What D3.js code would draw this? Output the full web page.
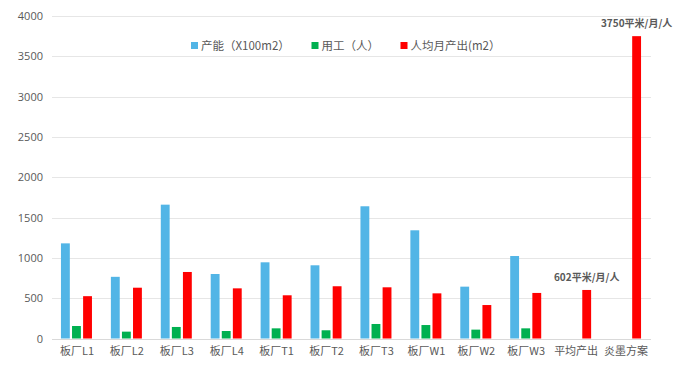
<!DOCTYPE html>
<html><head><meta charset="utf-8">
<script src="https://cdn.jsdelivr.net/npm/d3@7"></script>
<style>body{margin:0;background:#fff;} text{font-family:"Noto Sans CJK SC","Microsoft YaHei",sans-serif;}</style>
</head><body><svg id="c" width="680" height="368"></svg>
<script>
const categories = ["板厂L1","板厂L2","板厂L3","板厂L4","板厂T1","板厂T2","板厂T3","板厂W1","板厂W2","板厂W3","平均产出","炎墨方案"];
const seriesNames = ["产能（X100m2）","用工（人）","人均月产出(m2）"];
const capacity = [1180,765,1660,800,945,908,1640,1342,643,1023,null,null];
const workers = [155,85,143,93,126,102,180,167,110,126,null,null];
const perCapita = [525,630,825,622,536,648,635,560,415,565,602,3750];
const yTicks = [0,500,1000,1500,2000,2500,3000,3500,4000];
const annotations = [{cat:"平均产出", value:602, text:"602平米/月/人"},{cat:"炎墨方案", value:3750, text:"3750平米/月/人"}];
const colors = ["#52B5E6","#00B050","#FF0000"];

const svg = d3.select("#c");
const m = {l:52, r:29, t:16, b:29.5};
const W = 680, H = 368;
const x = d3.scaleBand().domain(categories).range([m.l, W-m.r]).paddingInner(0).paddingOuter(0);
const y = d3.scaleLinear().domain([0,4000]).range([H-m.b, m.t]);
const xs = d3.scaleBand().domain([0,1,2]).range([0,31]).paddingInner(0.2).paddingOuter(0);

// grid
svg.append("g").selectAll("line").data(yTicks).join("line")
  .attr("x1", m.l).attr("x2", W-m.r)
  .attr("y1", d=>Math.round(y(d))+0.5).attr("y2", d=>Math.round(y(d))+0.5)
  .attr("stroke", d=>d===0?"#d9d9d9":"#e6e6e6").attr("stroke-width",1);

// y axis
const ya = svg.append("g").attr("transform",`translate(${m.l},0)`)
  .call(d3.axisLeft(y).tickValues(yTicks).tickSize(0).tickPadding(9).tickFormat(d3.format("d")));
ya.select(".domain").remove();
ya.selectAll("text").attr("fill","#595959").style("font-size","11px").style("font-family","'Open Sans',sans-serif");

// x axis
const xa = svg.append("g").attr("transform",`translate(0,${H-m.b})`)
  .call(d3.axisBottom(x).tickSize(0).tickPadding(9));
xa.select(".domain").remove();
xa.selectAll("text").attr("fill","#595959").style("font-size","11px");

const series = [capacity, workers, perCapita];
const data = [];
categories.forEach((c,i)=>series.forEach((s,j)=>{ if(s[i]!=null) data.push({c, j, v:s[i]}); }));
const off = (x.bandwidth()-31)/2 - 0.5;
svg.append("g").selectAll("rect").data(data).join("rect")
  .attr("x", d=>x(d.c)+off+xs(d.j))
  .attr("width", xs.bandwidth())
  .attr("y", d=>y(d.value===undefined?d.v:d.v))
  .attr("height", d=>y(0)-y(d.v))
  .attr("fill", d=>colors[d.j]);

// annotations
svg.append("g").selectAll("text").data(annotations).join("text")
  .attr("y", d=>y(d.value)-9)
  .attr("text-anchor","middle")
  .attr("fill","#595959").style("font-size","10px").style("font-weight","bold")
  .text(d=>d.text)
  .each(function(d){
    const w = this.getComputedTextLength();
    const cx = x(d.cat)+off+xs(2)+xs.bandwidth()/2;
    d3.select(this).attr("x", Math.min(cx, W-2-w/2));
  });

// legend
const legX = [191, 311.5, 400.5];
const lg = svg.append("g").selectAll("g").data(seriesNames).join("g")
  .attr("transform",(d,i)=>`translate(${legX[i]},42)`);
lg.append("rect").attr("width",7).attr("height",7).attr("fill",(d,i)=>colors[i]);
lg.append("text").attr("x",10).attr("y",8).attr("fill","#595959").style("font-size","11.5px").text(d=>d);
</script></body></html>
